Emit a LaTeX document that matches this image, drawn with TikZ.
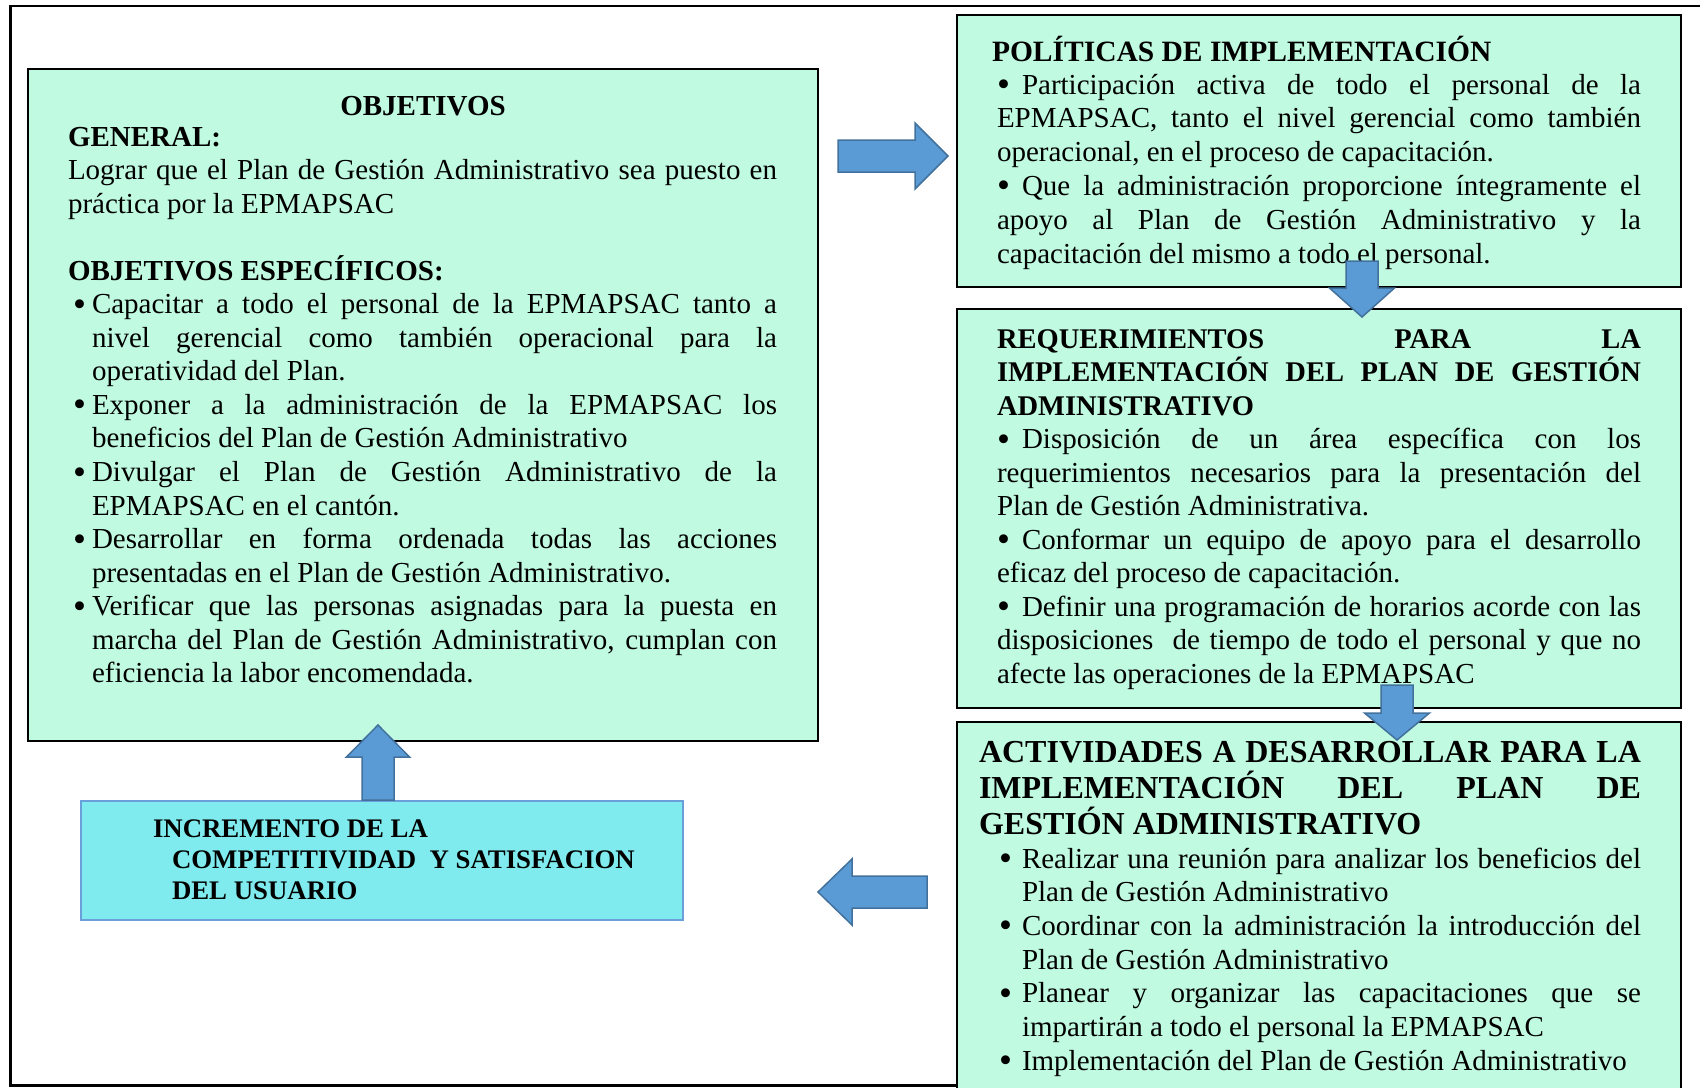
\documentclass[tikz,border=0pt]{standalone}
\usepackage{fontspec}
\setmainfont{Liberation Serif}
\usetikzlibrary{calc}
\definecolor{boxgreen}{HTML}{C0FAE0}
\definecolor{incfill}{HTML}{80EBEE}
\definecolor{incdraw}{HTML}{6A9FDB}
\definecolor{arrfill}{HTML}{5B9BD5}
\definecolor{arrdraw}{HTML}{41719C}
\newcommand\jl[1]{\noindent\makebox[\dimexpr\hsize-\leftskip\relax][s]{#1}\par}
\newcommand\lastl[1]{\noindent#1\par}
\newcommand\bigbul{\raisebox{-2.5pt}{\fontsize{37}{37}\selectfont\textbullet}}
% bullet item: #1 = indent of text, #2 = width of bullet slot, #3 = lines (use \B at start of first)
\newcommand\bitem[3]{{\leftskip=#1\relax\def\B{\llap{\makebox[#2][l]{\bigbul}}}#3}}
\newcommand\bulbox{\makebox[25pt][l]{\bigbul}}
\newcommand\barrow[6]{\path[blockarr,shift={(#1)},rotate=#2] (0,-#4) -- (#3-#6,-#4) -- (#3-#6,-#5) -- (#3,0) -- (#3-#6,#5) -- (#3-#6,#4) -- (0,#4) -- cycle;}
\tikzset{
  gbox/.style={draw=black, line width=2.5pt, fill=boxgreen, anchor=north west, inner sep=0pt, outer sep=0pt},
  ibox/.style={draw=incdraw, line width=2pt, fill=incfill, anchor=north west, inner sep=0pt, outer sep=0pt},
  txt/.style={inner sep=0pt, outer sep=0pt, anchor=base west, font=\fontsize{29}{33.55}\selectfont},
  blockarr/.style={fill=arrfill, draw=arrdraw, line width=1.5pt, line join=miter},
  frame/.style={draw=black, line width=2.5pt}
}
\begin{document}
\begin{tikzpicture}[x=1pt,y=-1pt]
\useasboundingbox (0,0) rectangle (1700,1087);
\clip (0,0) rectangle (1700,1087);
% outer frame
\draw[frame] (1700,6) -- (10.5,6) -- (10.5,1085.5) -- (960,1085.5);
% boxes
\node[gbox, minimum width=790pt, minimum height=672pt] (obj) at (28,69) {};
\node[gbox, minimum width=724pt, minimum height=272pt] (pol) at (957,15) {};
\node[gbox, minimum width=724pt, minimum height=399pt] (req) at (957,309) {};
\node[gbox, minimum width=724pt, minimum height=400pt] (act) at (957,722) {};
\node[ibox, minimum width=602pt, minimum height=119pt] (inc) at (81,801) {};
% Objetivos
\node[txt, anchor=base, font=\fontsize{29}{33.55}\selectfont\bfseries] (objh) at (423,115) {OBJETIVOS};
\node[txt] (objt) at (68,146) {\parbox[t]{709pt}{%
\lastl{\textbf{GENERAL:}}%
\jl{Lograr que el Plan de Gestión Administrativo sea puesto en}%
\lastl{práctica por la EPMAPSAC}%
\lastl{\mbox{}}%
\lastl{\textbf{OBJETIVOS ESPECÍFICOS:}}%
\bitem{24pt}{19pt}{\jl{\B Capacitar a todo el personal de la EPMAPSAC tanto a}\jl{nivel gerencial como también operacional para la}\lastl{operatividad del Plan.}}%
\bitem{24pt}{19pt}{\jl{\B Exponer a la administración de la EPMAPSAC los}\lastl{beneficios del Plan de Gestión Administrativo}}%
\bitem{24pt}{19pt}{\jl{\B Divulgar el Plan de Gestión Administrativo de la}\lastl{EPMAPSAC en el cantón.}}%
\bitem{24pt}{19pt}{\jl{\B Desarrollar en forma ordenada todas las acciones}\lastl{presentadas en el Plan de Gestión Administrativo.}}%
\bitem{24pt}{19pt}{\jl{\B Verificar que las personas asignadas para la puesta en}\jl{marcha del Plan de Gestión Administrativo, cumplan con}\lastl{eficiencia la labor encomendada.}}%
}};
% Politicas
\node[txt, font=\fontsize{29.5}{33.8}\selectfont\bfseries] (polh) at (992,61) {POLÍTICAS DE IMPLEMENTACIÓN};
\node[txt, font=\fontsize{29}{33.8}\selectfont] (polt) at (997,94) {\parbox[t]{644pt}{%
\jl{\bulbox Participación activa de todo el personal de la}%
\jl{EPMAPSAC, tanto el nivel gerencial como también}%
\lastl{operacional, en el proceso de capacitación.}%
\jl{\bulbox Que la administración proporcione íntegramente el}%
\jl{apoyo al Plan de Gestión Administrativo y la}%
\lastl{capacitación del mismo a todo el personal.}%
}};
% Requerimientos
\node[txt, font=\fontsize{29}{33.5}\selectfont] (reqt) at (997,348) {\parbox[t]{644pt}{%
{\fontsize{28.5}{33.5}\selectfont\bfseries
\jl{REQUERIMIENTOS PARA LA}%
\jl{IMPLEMENTACIÓN DEL PLAN DE GESTIÓN}%
\lastl{ADMINISTRATIVO}}%
\jl{\bulbox Disposición de un área específica con los}%
\jl{requerimientos necesarios para la presentación del}%
\lastl{Plan de Gestión Administrativa.}%
\jl{\bulbox Conformar un equipo de apoyo para el desarrollo}%
\lastl{eficaz del proceso de capacitación.}%
\jl{\bulbox Definir una programación de horarios acorde con las}%
\jl{disposiciones\ \ de tiempo de todo el personal y que no}%
\lastl{afecte las operaciones de la EPMAPSAC}%
}};
% Actividades
\node[txt, font=\fontsize{32}{36}\selectfont\bfseries] (acth) at (979,762) {\parbox[t]{662pt}{%
\jl{ACTIVIDADES A DESARROLLAR PARA LA}%
\jl{IMPLEMENTACIÓN DEL PLAN DE}%
\lastl{GESTIÓN ADMINISTRATIVO}%
}};
\node[txt, font=\fontsize{29}{33.7}\selectfont] (actt) at (979,868) {\parbox[t]{662pt}{%
\bitem{43pt}{23pt}{\jl{\B Realizar una reunión para analizar los beneficios del}\lastl{Plan de Gestión Administrativo}}%
\bitem{43pt}{23pt}{\jl{\B Coordinar con la administración la introducción del}\lastl{Plan de Gestión Administrativo}}%
\bitem{43pt}{23pt}{\jl{\B Planear y organizar las capacitaciones que se}\lastl{impartirán a todo el personal la EPMAPSAC}}%
\bitem{43pt}{23pt}{\lastl{\B Implementación del Plan de Gestión Administrativo}}%
}};
% Incremento
\node[txt, font=\fontsize{26.8}{31}\selectfont\bfseries] (inct) at (153,837) {\parbox[t]{520pt}{%
\lastl{INCREMENTO DE LA}%
\lastl{\hspace*{19pt}COMPETITIVIDAD\ \ Y SATISFACION}%
\lastl{\hspace*{19pt}DEL USUARIO}%
}};
% block arrows
\coordinate (a1) at (838,156);
\coordinate (a2) at (1362,261);
\coordinate (a3) at (1397,685);
\coordinate (a4) at (927,892);
\coordinate (a5) at (378,800);
\barrow{a1}{0}{110}{16}{33}{33}
\barrow{a2}{-90}{56}{16}{32.5}{29}
\barrow{a3}{-90}{55}{16}{32.5}{27}
\barrow{a4}{180}{109}{16}{33}{34}
\barrow{a5}{90}{75}{16}{31.5}{32}
\end{tikzpicture}
\end{document}
